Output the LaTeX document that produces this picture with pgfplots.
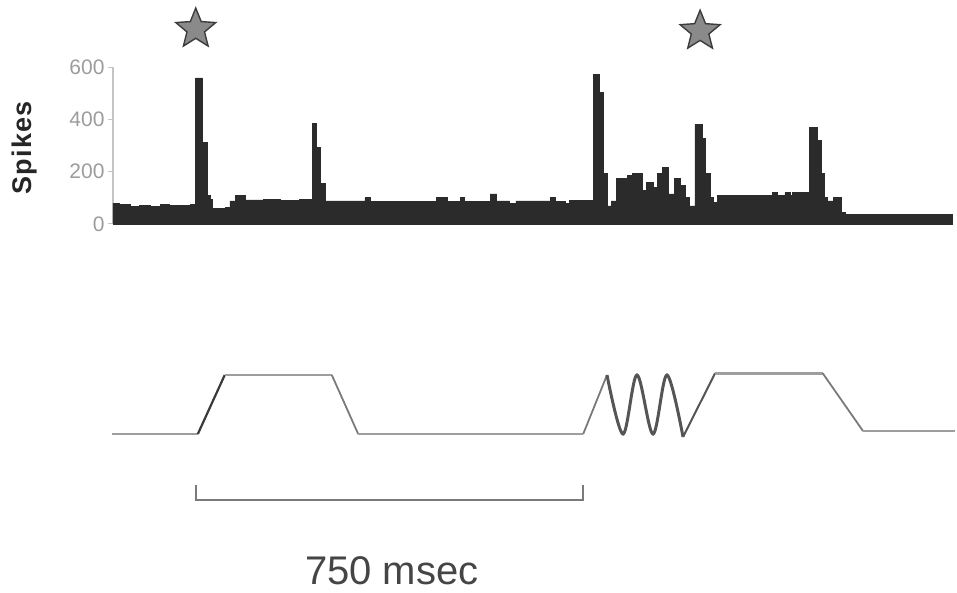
\documentclass[border=0pt]{standalone}
\usepackage{pgfplots}
\pgfplotsset{compat=1.18}
\usepackage{fontspec}
\setmainfont{Liberation Sans}
\definecolor{histdark}{HTML}{2B2B2B}
\definecolor{axisgray}{HTML}{C4C4C4}
\definecolor{tickgray}{HTML}{9C9C9C}
\definecolor{stimgray}{HTML}{9E9E9E}
\definecolor{stimdark}{HTML}{3A3A3A}
\definecolor{oscgray}{HTML}{555555}
\definecolor{bargray}{HTML}{7A7A7A}
\definecolor{starfill}{HTML}{8A8A8A}
\definecolor{stardraw}{HTML}{3C3C3C}
\definecolor{labeldark}{HTML}{262626}
\definecolor{msecgray}{HTML}{454545}

\pgfdeclareplotmark{fstar}{%
  \pgfpathmoveto{\pgfpointpolar{90}{\pgfplotmarksize}}%
  \pgfpathlineto{\pgfpointpolar{126}{0.44\pgfplotmarksize}}%
  \pgfpathlineto{\pgfpointpolar{162}{\pgfplotmarksize}}%
  \pgfpathlineto{\pgfpointpolar{198}{0.44\pgfplotmarksize}}%
  \pgfpathlineto{\pgfpointpolar{234}{\pgfplotmarksize}}%
  \pgfpathlineto{\pgfpointpolar{270}{0.44\pgfplotmarksize}}%
  \pgfpathlineto{\pgfpointpolar{306}{\pgfplotmarksize}}%
  \pgfpathlineto{\pgfpointpolar{342}{0.44\pgfplotmarksize}}%
  \pgfpathlineto{\pgfpointpolar{18}{\pgfplotmarksize}}%
  \pgfpathlineto{\pgfpointpolar{54}{0.44\pgfplotmarksize}}%
  \pgfpathclose
  \pgfusepathqfillstroke}

\begin{document}
\begin{tikzpicture}
\path[use as bounding box] (0,0) rectangle (957pt,592pt);

% ---------- PSTH ----------
\begin{axis}[
  at={(113pt,368pt)}, anchor=south west,
  scale only axis, width=839pt, height=157pt,
  xmin=0, xmax=1622, ymin=0, ymax=600,
  clip=false,
  axis x line=bottom, axis y line=left,
  axis line style={draw=axisgray, line width=1.5pt, -},
  xtick=\empty,
  ytick={0,200,400,600},
  tick align=outside,
  major tick length=5pt,
  tick style={draw=axisgray, line width=1pt},
  /pgf/number format/assume math mode=true,
  yticklabel style={font=\fontsize{21}{21}\selectfont, text=tickgray},
  ylabel={\addfontfeature{LetterSpace=5}Spikes},
  ylabel style={at={(axis description cs:-0.105,0.484)}, anchor=center,
    font=\fontsize{27}{27}\selectfont\bfseries, text=labeldark},
]
\addplot[const plot, fill=histdark, draw=histdark, line width=0.8pt] coordinates {
(0,80) (13,74) (33,66) (52,72) (72,68) (91,75) (110,70) (130,72) (149,76)
(160,558) (172,312) (182,108) (188,95) (193,60) (217,62) (226,88) (236,108)
(255,92) (290,95) (323,90) (361,94)
(385,385) (394,292) (400,154) (410,88)
(487,100) (497,86) (626,100) (646,86) (671,100) (680,86) (729,115) (742,88)
(767,77) (779,88) (845,100) (856,86) (874,78) (883,90)
(928,570) (941,504) (949,192) (955,69) (963,88) (974,173) (994,185) (1005,192)
(1023,127) (1032,158) (1044,138) (1053,192) (1063,215) (1073,115) (1086,173)
(1096,146) (1106,100) (1115,69)
(1125,381) (1139,327) (1146,192) (1154,100) (1160,81) (1168,108)
(1274,119) (1284,108) (1299,119) (1309,108) (1314,119)
(1347,369) (1361,319) (1369,192) (1376,100) (1382,88) (1392,100)
(1409,45) (1415,38) (1622,38)
} \closedcycle;
\addplot[only marks, mark=fstar, mark size=21pt,
  mark options={fill=starfill, draw=stardraw, line width=1.4pt}]
  coordinates {(160,745) (1135,737)};
\end{axis}

% ---------- stimulus trace and scale bar ----------
\begin{axis}[
  at={(113pt,87.2pt)}, anchor=south west,
  scale only axis, width=839pt, height=129.8pt,
  xmin=0, xmax=1622, ymin=-1.2, ymax=1.0,
  clip=false, hide axis,
]
\addplot[stimgray, line width=2.4pt] coordinates {(-2,0) (164,0)};
\addplot[stimdark, line width=2.2pt] coordinates {(164,0) (216,1)};
\addplot[stimgray, line width=2.4pt] coordinates {(216,1) (423,1)};
\addplot[bargray, line width=1.8pt] coordinates {(423,1) (474,0)};
\addplot[stimgray, line width=2.4pt] coordinates {(474,0) (909,0)};
\addplot[bargray, line width=1.8pt] coordinates {(909,0) (955,1)};
\addplot[oscgray, line width=3.0pt, smooth, tension=0.55] coordinates {
  (955,1) (986,0) (1013,1) (1044,0) (1071,1) (1102,-0.05)};
\addplot[oscgray, line width=2.0pt] coordinates {(1102,-0.05) (1164,1.03)};
\addplot[stimgray, line width=2.6pt] coordinates {(1164,1.03) (1372,1.03)};
\addplot[bargray, line width=1.8pt] coordinates {(1372,1.03) (1450,0.05)};
\addplot[stimgray, line width=2.4pt] coordinates {(1450,0.05) (1628,0.05)};
% scale bar
\addplot[bargray, line width=1.8pt] coordinates {(160,-0.86) (160,-1.12) (909,-1.12) (909,-0.86)};
\node[font=\fontsize{40}{40}\selectfont, text=msecgray, anchor=base, inner sep=0pt]
  at (axis cs:539,-2.55) {750 msec};
\end{axis}
\end{tikzpicture}
\end{document}
